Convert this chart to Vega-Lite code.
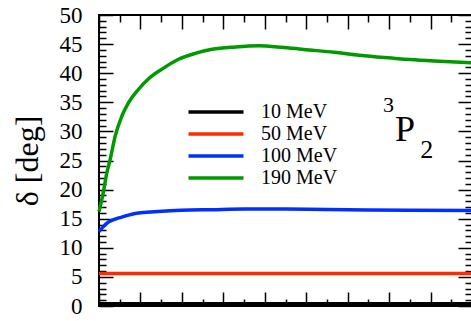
{
  "$schema": "https://vega.github.io/schema/vega-lite/v6.json",
  "width": 373,
  "height": 291,
  "autosize": {"type": "none"},
  "padding": {"left": 99, "top": 15, "right": 0, "bottom": 15},
  "background": "white",
  "config": {
    "view": {"stroke": "black", "strokeWidth": 2},
    "font": "Liberation Serif, Times New Roman, serif",
    "axis": {
      "domain": false,
      "tickColor": "black",
      "tickWidth": 1.5,
      "grid": false,
      "labelFont": "Liberation Serif, Times New Roman, serif",
      "titleFont": "Liberation Serif, Times New Roman, serif",
      "labelColor": "black",
      "titleColor": "black",
      "labelOverlap": false,
      "labelFlush": false
    }
  },
  "datasets": {
    "curves": [
      {"E": "10 MeV", "x": 0, "d": 0.4},
      {"E": "10 MeV", "x": 3, "d": 0.4},
      {"E": "10 MeV", "x": 6, "d": 0.4},
      {"E": "10 MeV", "x": 9, "d": 0.4},
      {"E": "50 MeV", "x": 0, "d": 5.6},
      {"E": "50 MeV", "x": 3, "d": 5.6},
      {"E": "50 MeV", "x": 6, "d": 5.6},
      {"E": "50 MeV", "x": 9, "d": 5.6},
      {"E": "100 MeV", "x": 0, "d": 12.8},
      {"E": "100 MeV", "x": 0.1, "d": 13.6},
      {"E": "100 MeV", "x": 0.2, "d": 14.3},
      {"E": "100 MeV", "x": 0.33, "d": 14.75},
      {"E": "100 MeV", "x": 0.46, "d": 15.1},
      {"E": "100 MeV", "x": 0.65, "d": 15.5},
      {"E": "100 MeV", "x": 0.87, "d": 15.9},
      {"E": "100 MeV", "x": 1.15, "d": 16.1},
      {"E": "100 MeV", "x": 1.52, "d": 16.3},
      {"E": "100 MeV", "x": 2.0, "d": 16.45},
      {"E": "100 MeV", "x": 2.73, "d": 16.55},
      {"E": "100 MeV", "x": 3.5, "d": 16.65},
      {"E": "100 MeV", "x": 4.5, "d": 16.65},
      {"E": "100 MeV", "x": 5.5, "d": 16.6},
      {"E": "100 MeV", "x": 6.5, "d": 16.5},
      {"E": "100 MeV", "x": 7.5, "d": 16.45},
      {"E": "100 MeV", "x": 9.0, "d": 16.4},
      {"E": "190 MeV", "x": 0, "d": 16.2},
      {"E": "190 MeV", "x": 0.1, "d": 19.4},
      {"E": "190 MeV", "x": 0.19, "d": 22.9},
      {"E": "190 MeV", "x": 0.27, "d": 25.2},
      {"E": "190 MeV", "x": 0.39, "d": 29.2},
      {"E": "190 MeV", "x": 0.55, "d": 32.6},
      {"E": "190 MeV", "x": 0.71, "d": 34.9},
      {"E": "190 MeV", "x": 0.95, "d": 37.2},
      {"E": "190 MeV", "x": 1.19, "d": 39.0},
      {"E": "190 MeV", "x": 1.52, "d": 40.7},
      {"E": "190 MeV", "x": 1.92, "d": 42.4},
      {"E": "190 MeV", "x": 2.32, "d": 43.4},
      {"E": "190 MeV", "x": 2.73, "d": 44.1},
      {"E": "190 MeV", "x": 3.29, "d": 44.5},
      {"E": "190 MeV", "x": 3.85, "d": 44.7},
      {"E": "190 MeV", "x": 4.46, "d": 44.4},
      {"E": "190 MeV", "x": 5.07, "d": 44.0},
      {"E": "190 MeV", "x": 5.67, "d": 43.6},
      {"E": "190 MeV", "x": 6.28, "d": 43.1},
      {"E": "190 MeV", "x": 6.88, "d": 42.7},
      {"E": "190 MeV", "x": 7.5, "d": 42.35},
      {"E": "190 MeV", "x": 8.09, "d": 42.1},
      {"E": "190 MeV", "x": 9.0, "d": 41.8}
    ],
    "labels": [
      {"t": "3", "x": 6.85, "y": 33.4},
      {"t": "P", "x": 7.14, "y": 28.3},
      {"t": "2", "x": 7.75, "y": 25.5}
    ]
  },
  "layer": [
    {
      "data": {"name": "curves"},
      "transform": [{"filter": "datum.E === '10 MeV' || datum.E === '50 MeV'"}],
      "mark": {"type": "line", "strokeWidth": 3.5, "interpolate": "monotone"},
      "encoding": {
        "x": {
          "field": "x",
          "type": "quantitative",
          "scale": {"domain": [0, 9], "nice": false, "zero": false},
          "axis": {"orient": "bottom", "values": [0, 1, 2, 3, 4, 5, 6, 7, 8, 9], "labels": false, "tickSize": -14, "title": null}
        },
        "y": {
          "field": "d",
          "type": "quantitative",
          "scale": {"domain": [0, 50], "nice": false},
          "axis": {
            "orient": "left",
            "values": [0, 5, 10, 15, 20, 25, 30, 35, 40, 45, 50],
            "ticks": false,
            "tickSize": 0,
            "labelFontSize": 23,
            "labelPadding": 17,
            "title": "δ [deg]",
            "titleFontSize": 32,
            "titleFontWeight": "normal",
            "titlePadding": 15
          }
        },
        "color": {
          "field": "E",
          "type": "nominal",
          "sort": ["10 MeV", "50 MeV", "100 MeV", "190 MeV"],
          "scale": {
            "domain": ["10 MeV", "50 MeV", "100 MeV", "190 MeV"],
            "range": ["#000000", "#ff2a00", "#0030ff", "#009900"]
          },
          "legend": {
            "orient": "none", "legendX": 107, "legendY": 87, "title": null,
            "symbolType": "M-5,0H5", "symbolSize": 121, "symbolStrokeWidth": 3.5,
            "labelFont": "Liberation Serif, Times New Roman, serif", "labelFontSize": 20,
            "labelColor": "black", "labelOffset": 35, "rowPadding": 2, "padding": 0, "offset": 0
          }
        }
      }
    },
    {
      "data": {"name": "curves"},
      "transform": [{"filter": "datum.E === '100 MeV' || datum.E === '190 MeV'"}],
      "mark": {"type": "line", "strokeWidth": 3.5, "interpolate": "monotone"},
      "encoding": {
        "x": {"field": "x", "type": "quantitative", "axis": null},
        "y": {
          "field": "d",
          "type": "quantitative",
          "axis": {
            "orient": "right",
            "values": [1,2,3,4,6,7,8,9,11,12,13,14,16,17,18,19,21,22,23,24,26,27,28,29,31,32,33,34,36,37,38,39,41,42,43,44,46,47,48,49],
            "labels": false, "tickSize": -7, "title": null
          }
        },
        "color": {
          "field": "E",
          "type": "nominal",
          "sort": ["10 MeV", "50 MeV", "100 MeV", "190 MeV"],
          "scale": {
            "domain": ["10 MeV", "50 MeV", "100 MeV", "190 MeV"],
            "range": ["#000000", "#ff2a00", "#0030ff", "#009900"]
          },
          "legend": {
            "orient": "none", "legendX": 107, "legendY": 87, "title": null,
            "symbolType": "M-5,0H5", "symbolSize": 121, "symbolStrokeWidth": 3.5,
            "labelFont": "Liberation Serif, Times New Roman, serif", "labelFontSize": 20,
            "labelColor": "black", "labelOffset": 35, "rowPadding": 2, "padding": 0, "offset": 0
          }
        }
      }
    },
    {
      "data": {"name": "labels"},
      "transform": [{"filter": "datum.t === '3'"}],
      "mark": {"type": "text", "fontSize": 22, "align": "left", "baseline": "alphabetic", "color": "black"},
      "encoding": {
        "x": {
          "field": "x", "type": "quantitative",
          "axis": {"orient": "bottom", "values": [0.5, 1.5, 2.5, 3.5, 4.5, 5.5, 6.5, 7.5, 8.5], "labels": false, "tickSize": -7, "title": null}
        },
        "y": {
          "field": "y", "type": "quantitative",
          "axis": {"orient": "left", "values": [0, 5, 10, 15, 20, 25, 30, 35, 40, 45, 50], "labels": false, "tickSize": -14, "title": null}
        },
        "text": {"field": "t"}
      }
    },
    {
      "data": {"name": "labels"},
      "transform": [{"filter": "datum.t === 'P'"}],
      "mark": {"type": "text", "fontSize": 36, "align": "left", "baseline": "alphabetic", "color": "black"},
      "encoding": {
        "x": {
          "field": "x", "type": "quantitative",
          "axis": {"orient": "top", "values": [0, 1, 2, 3, 4, 5, 6, 7, 8, 9], "labels": false, "tickSize": -14, "title": null}
        },
        "y": {
          "field": "y", "type": "quantitative",
          "axis": {
            "orient": "left",
            "values": [1,2,3,4,6,7,8,9,11,12,13,14,16,17,18,19,21,22,23,24,26,27,28,29,31,32,33,34,36,37,38,39,41,42,43,44,46,47,48,49],
            "labels": false, "tickSize": -7, "title": null
          }
        },
        "text": {"field": "t"}
      }
    },
    {
      "data": {"name": "labels"},
      "transform": [{"filter": "datum.t === '2'"}],
      "mark": {"type": "text", "fontSize": 26, "align": "left", "baseline": "alphabetic", "color": "black"},
      "encoding": {
        "x": {
          "field": "x", "type": "quantitative",
          "axis": {"orient": "top", "values": [0.5, 1.5, 2.5, 3.5, 4.5, 5.5, 6.5, 7.5, 8.5], "labels": false, "tickSize": -7, "title": null}
        },
        "y": {
          "field": "y", "type": "quantitative",
          "axis": {"orient": "right", "values": [0, 5, 10, 15, 20, 25, 30, 35, 40, 45, 50], "labels": false, "tickSize": -14, "title": null}
        },
        "text": {"field": "t"}
      }
    }
  ],
  "resolve": {"axis": {"x": "independent", "y": "independent"}}
}
